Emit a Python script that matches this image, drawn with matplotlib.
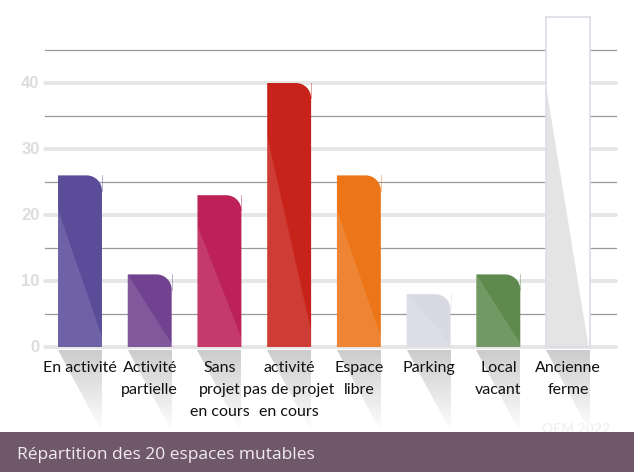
import numpy as np
import matplotlib.pyplot as plt
from matplotlib.path import Path
from matplotlib.patches import PathPatch, Polygon, Rectangle

# Data
categories = ['En activité', 'Activité\npartielle', 'Sans\nprojet\nen cours',
              'activité\npas de projet\nen cours', 'Espace\nlibre', 'Parking',
              'Local\nvacant', 'Ancienne\nferme']
values = [26, 11, 23, 40, 26, 8, 11, 50]
colors = ['#5B4C9A', '#71428F', '#BC2157', '#C8231A', '#EC7518', '#D9D9E4',
          '#5F8A4E', '#FFFFFF']
yticks = [0, 10, 20, 30, 40]
minor_lines = [5, 15, 25, 35, 45]
title = 'Répartition des 20 espaces mutables'

fig = plt.figure(figsize=(6.4, 4.72), dpi=100)
ax = fig.add_axes([0, 40 / 472, 1, 432 / 472])
ax.axis('off')

x = np.arange(len(values))
width = 0.63
rx, ry = 0.22, 2.3  # corner radius in data units (about 15 px)

# grid lines
xl, xr = -0.50, 7.69
for t in yticks:
    ax.plot([xl, xr], [t, t], color='#E6E6E6', lw=2.8, solid_capstyle='round', zorder=1)
    ax.text(-0.58, t, str(t), ha='right', va='center', fontsize=12,
            fontweight='bold', color='#DCDCDC', family='Liberation Sans')
for t in minor_lines:
    ax.plot([xl, xr], [t, t], color='#9A9A9A', lw=0.9, zorder=1)

bars = ax.bar(x, values, width=width, color='none', edgecolor='none')

k = 0.5523
for rect, v, c in zip(bars, values, colors):
    x0 = rect.get_x()
    x1 = x0 + rect.get_width()
    h = rect.get_height()
    if c == '#FFFFFF':
        # plain white bar with grey outline
        ax.add_patch(Rectangle((x0, 0), x1 - x0, h, facecolor='white',
                               edgecolor='none', zorder=3))
        ax.add_patch(Polygon([(x0, 0), (x0, h * 0.79), (x1 - 0.02, 0)],
                             facecolor='#E4E4E4', edgecolor='none', zorder=3.5))
        ax.add_patch(Rectangle((x0, 0), x1 - x0, h, facecolor='none',
                               edgecolor='#DCDCE6', lw=1.2, zorder=3.6))
    else:
        verts = [(x0, 0), (x0, h), (x1 - rx, h),
                 (x1 - rx + rx * k, h), (x1, h - ry + ry * k), (x1, h - ry),
                 (x1, 0), (x0, 0)]
        codes = [Path.MOVETO, Path.LINETO, Path.LINETO,
                 Path.CURVE4, Path.CURVE4, Path.CURVE4,
                 Path.LINETO, Path.CLOSEPOLY]
        ax.add_patch(PathPatch(Path(verts, codes), facecolor=c, edgecolor='none', zorder=3))
        # thin line of the square corner
        ax.plot([x1, x1], [h, h - ry], color=c, lw=0.6, alpha=0.5, zorder=3)
        # lighter lower-left facet
        top = h * 0.8 if h > 15 else h
        ax.add_patch(Polygon([(x0, 0), (x0, top), (x1, h * 0.06 if h > 15 else 0.5), (x1, 0)],
                             facecolor='white', alpha=0.12, edgecolor='none', zorder=3.5))

    # reflection below the baseline, fading downward
    grad = np.linspace(0.80, 1.0, 100).reshape(-1, 1)
    im = ax.imshow(grad, cmap='gray', vmin=0, vmax=1, aspect='auto',
                   extent=(x0, x1, -12.9, -0.5), origin='upper', zorder=2)
    tri = Polygon([(x0, -0.5), (x1, -0.5), (x1, -12.9)], transform=ax.transData,
                  facecolor='none', edgecolor='none')
    ax.add_patch(tri)
    im.set_clip_path(tri)

# category labels
for xi, lab in zip(x, categories):
    ax.text(xi, -2.1, lab, ha='center', va='top', fontsize=11.5, color='#111111',
            family='Lato', linespacing=1.75)

ax.set_xlim(-80 / 69.72, 560 / 69.72)
ax.set_ylim(-85 / 6.6, 347 / 6.6)

# faint watermark, partly hidden by the banner
ax.text(7.6, -12.4, 'OEM 2022', ha='right', va='center', fontsize=10,
        color='#F1F1F1', family='Lato', fontweight='bold', zorder=1)

# bottom banner
fig.patches.append(Rectangle((0, 0), 634 / 640, 40 / 472, transform=fig.transFigure,
                             facecolor='#6E5869', edgecolor='none'))
fig.text(17 / 640, 17 / 472, title, ha='left', va='center', fontsize=12.5,
         color='#F2ECF0', family='Open Sans')

fig.savefig('out.png', dpi=100)
